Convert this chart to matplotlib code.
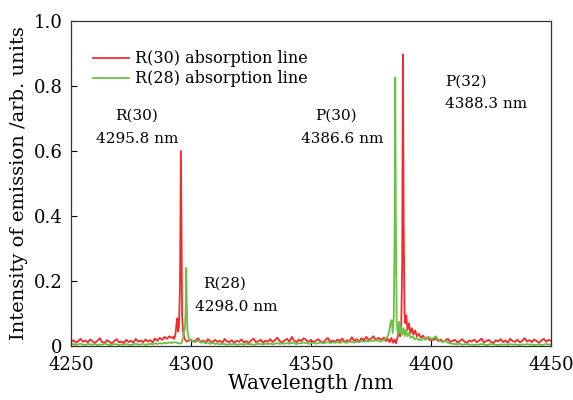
import numpy as np
import matplotlib
matplotlib.use("Agg")
import matplotlib.pyplot as plt

nan = np.nan

# Baseline readings on a 1 nm grid (4250-4450 nm); NaN where a peak list takes over
wavelength_grid = np.arange(4250, 4451)

red_baseline = (
    [0.012, 0.018, 0.010, 0.015, 0.022, 0.013, 0.017, 0.011, 0.020, 0.014,
     0.009, 0.016, 0.024, 0.012, 0.010, 0.018, 0.013, 0.008, 0.015, 0.021,
     0.011, 0.014, 0.009, 0.019, 0.012, 0.016, 0.010, 0.022, 0.013, 0.017,
     0.012, 0.020, 0.014, 0.018, 0.011, 0.023, 0.016, 0.025, 0.019, 0.028,
     0.022, 0.030, 0.025, nan, nan, nan, nan, nan, nan, 0.016,
     0.020, 0.013, 0.018, 0.024, 0.012, 0.017, 0.010, 0.021, 0.015, 0.011,
     0.019, 0.013, 0.016, 0.009, 0.022, 0.014, 0.012, 0.018, 0.010, 0.016,
     0.013, 0.020, 0.011, 0.015, 0.009, 0.017, 0.023, 0.012, 0.014, 0.019,
     0.010, 0.016, 0.013, 0.021, 0.012, 0.018, 0.026, 0.014, 0.011, 0.017,
     0.022, 0.013, 0.028, 0.016, 0.012, 0.020, 0.015, 0.024, 0.018, 0.013,
     0.019, 0.011, 0.016, 0.021, 0.014, 0.010, 0.018, 0.025, 0.013, 0.017,
     0.012, 0.020, 0.015, 0.023, 0.011, 0.018, 0.014, 0.027, 0.016, 0.021,
     0.013, 0.024, 0.017, 0.028, 0.019, 0.022, 0.030, 0.018, 0.025, 0.021]
    + [nan] * 21
    + [0.018, 0.024, 0.015, 0.020, 0.013, 0.017, 0.022, 0.012, 0.016,
       0.019, 0.011, 0.015, 0.021, 0.013, 0.010, 0.017, 0.014, 0.020, 0.012,
       0.016, 0.023, 0.011, 0.015, 0.019, 0.013, 0.009, 0.018, 0.014, 0.021,
       0.012, 0.017, 0.010, 0.022, 0.015, 0.013, 0.019, 0.011, 0.016, 0.024,
       0.014, 0.018, 0.012, 0.020, 0.015, 0.010, 0.017, 0.022, 0.013, 0.019,
       0.016]
)

green_baseline = (
    [0.004, 0.006, 0.003, 0.005, 0.007, 0.004, 0.003, 0.006, 0.005, 0.004,
     0.006, 0.003, 0.005, 0.004, 0.007, 0.005, 0.003, 0.004, 0.006, 0.005,
     0.003, 0.005, 0.004, 0.006, 0.004, 0.003, 0.005, 0.007, 0.004, 0.005,
     0.006, 0.004, 0.005, 0.007, 0.005, 0.008, 0.006, 0.009, 0.007, 0.010,
     0.008, 0.011, 0.009, 0.012, 0.010, 0.008, nan, nan, nan, nan,
     nan, 0.015, 0.012, 0.018, 0.010, 0.013, 0.008, 0.011, 0.007, 0.009,
     0.006, 0.008, 0.005, 0.007, 0.006, 0.004, 0.006, 0.005, 0.007, 0.004,
     0.005, 0.006, 0.004, 0.007, 0.005, 0.006, 0.004, 0.005, 0.007, 0.006,
     0.005, 0.007, 0.006, 0.008, 0.005, 0.007, 0.009, 0.006, 0.008, 0.007,
     0.009, 0.007, 0.010, 0.008, 0.006, 0.009, 0.008, 0.011, 0.009, 0.007,
     0.008, 0.010, 0.007, 0.009, 0.011, 0.008, 0.010, 0.012, 0.009, 0.011,
     0.010, 0.012, 0.009, 0.013, 0.011, 0.010, 0.014, 0.012, 0.011, 0.013,
     0.012, 0.015, 0.013, 0.016, 0.014, 0.017, 0.015, 0.018, 0.016, 0.014]
    + [nan] * 16
    + [0.018, 0.025, 0.020, 0.028, 0.022,
       0.024, 0.030, 0.019, 0.015, 0.012, 0.016, 0.010, 0.008, 0.007,
       0.006, 0.005, 0.007, 0.004, 0.005, 0.006, 0.004, 0.005, 0.003, 0.005,
       0.004, 0.006, 0.005, 0.003, 0.004, 0.006, 0.005, 0.004, 0.003, 0.005,
       0.004, 0.005, 0.003, 0.006, 0.004, 0.005, 0.004, 0.003, 0.005, 0.004,
       0.006, 0.004, 0.005, 0.003, 0.004, 0.005, 0.003, 0.004, 0.006, 0.004,
       0.005]
)

# Finely sampled peak regions
red_r30_wl = [4292.6, 4293.0, 4293.5, 4294.0, 4294.3, 4294.6, 4295.0, 4295.4,
              4295.65, 4295.8, 4296.0, 4296.3, 4296.7, 4297.2, 4297.7, 4298.2]
red_r30_val = [0.028, 0.022, 0.035, 0.070, 0.085, 0.045, 0.060, 0.180,
               0.450, 0.600, 0.380, 0.090, 0.045, 0.025, 0.018, 0.014]

red_p32_wl = [4379.6, 4380.4, 4381.2, 4382.0, 4382.8, 4383.5, 4384.2, 4384.8,
              4385.4, 4386.0, 4386.6, 4387.1, 4387.6, 4388.0, 4388.3, 4388.6,
              4388.95, 4389.3, 4389.7, 4390.2, 4390.8, 4391.4, 4392.0, 4392.7,
              4393.4, 4394.1, 4394.9, 4395.8, 4396.7, 4397.6, 4398.5, 4399.4,
              4400.3]
red_p32_val = [0.020, 0.026, 0.015, 0.022, 0.012, 0.025, 0.010, 0.020,
               0.008, 0.025, 0.045, 0.030, 0.065, 0.250, 0.897, 0.400,
               0.100, 0.070, 0.095, 0.050, 0.070, 0.040, 0.055, 0.035,
               0.048, 0.030, 0.038, 0.025, 0.032, 0.020, 0.027, 0.018,
               0.022]

green_r28_wl = [4295.7, 4296.2, 4296.7, 4297.1, 4297.5, 4297.8, 4298.0, 4298.2,
                4298.5, 4298.9, 4299.4, 4300.0, 4300.4]
green_r28_val = [0.008, 0.012, 0.025, 0.045, 0.055, 0.120, 0.240, 0.150,
                 0.050, 0.030, 0.018, 0.020, 0.016]

green_p30_wl = [4379.6, 4380.5, 4381.3, 4382.0, 4382.6, 4383.1, 4383.6, 4384.0,
                4384.5, 4384.85, 4385.1, 4385.35, 4385.7, 4386.2, 4386.7, 4387.1,
                4387.6, 4388.1, 4388.6, 4389.1, 4389.6, 4390.2, 4390.8, 4391.5,
                4392.3, 4393.2, 4394.1, 4395.0, 4395.4]
green_p30_val = [0.016, 0.020, 0.025, 0.030, 0.045, 0.070, 0.080, 0.040,
                 0.090, 0.350, 0.826, 0.400, 0.070, 0.035, 0.075, 0.040,
                 0.060, 0.035, 0.055, 0.030, 0.050, 0.030, 0.040, 0.025,
                 0.030, 0.020, 0.025, 0.018, 0.020]

x_ticks = [4250, 4300, 4350, 4400, 4450]
y_ticks = [0, 0.2, 0.4, 0.6, 0.8, 1.0]
y_ticklabels = ["0", "0.2", "0.4", "0.6", "0.8", "1.0"]


def assemble(baseline, *segments):
    base = np.asarray(baseline, dtype=float)
    keep = ~np.isnan(base)
    wl = list(wavelength_grid[keep].astype(float))
    val = list(base[keep])
    for seg_wl, seg_val in segments:
        wl += list(seg_wl)
        val += list(seg_val)
    order = np.argsort(wl)
    return np.asarray(wl)[order], np.asarray(val)[order]


red_x, red_y = assemble(red_baseline, (red_r30_wl, red_r30_val),
                        (red_p32_wl, red_p32_val))
green_x, green_y = assemble(green_baseline, (green_r28_wl, green_r28_val),
                            (green_p30_wl, green_p30_val))

plt.rcParams["font.family"] = ["DejaVu Serif"]
plt.rcParams["mathtext.fontset"] = "dejavuserif"

fig = plt.figure(figsize=(5.73, 4.00), dpi=100)
ax = fig.add_axes([0.1239, 0.135, 0.8377, 0.8125])

red = "#f42a2a"
green = "#6cc044"
ax.plot(red_x, red_y, color=red, lw=1.3, label="R(30) absorption line")
ax.plot(green_x, green_y, color=green, lw=1.3, label="R(28) absorption line")

ax.set_xlim(4250, 4450)
ax.set_ylim(0, 1.0)
ax.set_xticks(x_ticks)
ax.set_yticks(y_ticks)
ax.set_yticklabels(y_ticklabels)
ax.tick_params(direction="in", length=4, width=0.8, labelsize=13,
               top=False, right=False)
ax.tick_params(axis="x", pad=7)
ax.tick_params(axis="y", pad=6)
for s in ax.spines.values():
    s.set_color("#333333")
    s.set_linewidth(0.9)

ax.set_xlabel("Wavelength /nm", fontsize=14.5, labelpad=0)
ax.set_ylabel("Intensity of emission /arb. units", fontsize=14, labelpad=4)

leg = ax.legend(loc="upper left", bbox_to_anchor=(0.032, 0.93), frameon=False,
                fontsize=11.5, handlelength=2.3, handletextpad=0.35,
                labelspacing=0.2, borderaxespad=0)

ann = dict(fontsize=11, va="center")
ax.text(4277.5, 0.71, "R(30)", ha="center", **ann)
ax.text(4277.5, 0.637, "4295.8 nm", ha="center", **ann)
ax.text(4314.0, 0.191, "R(28)", ha="center", **ann)
ax.text(4319.0, 0.120, "4298.0 nm", ha="center", **ann)
ax.text(4360.5, 0.71, "P(30)", ha="center", **ann)
ax.text(4363.0, 0.637, "4386.6 nm", ha="center", **ann)
ax.text(4406.0, 0.812, "P(32)", ha="left", **ann)
ax.text(4406.0, 0.745, "4388.3 nm", ha="left", **ann)

fig.savefig("out.png", dpi=100)
